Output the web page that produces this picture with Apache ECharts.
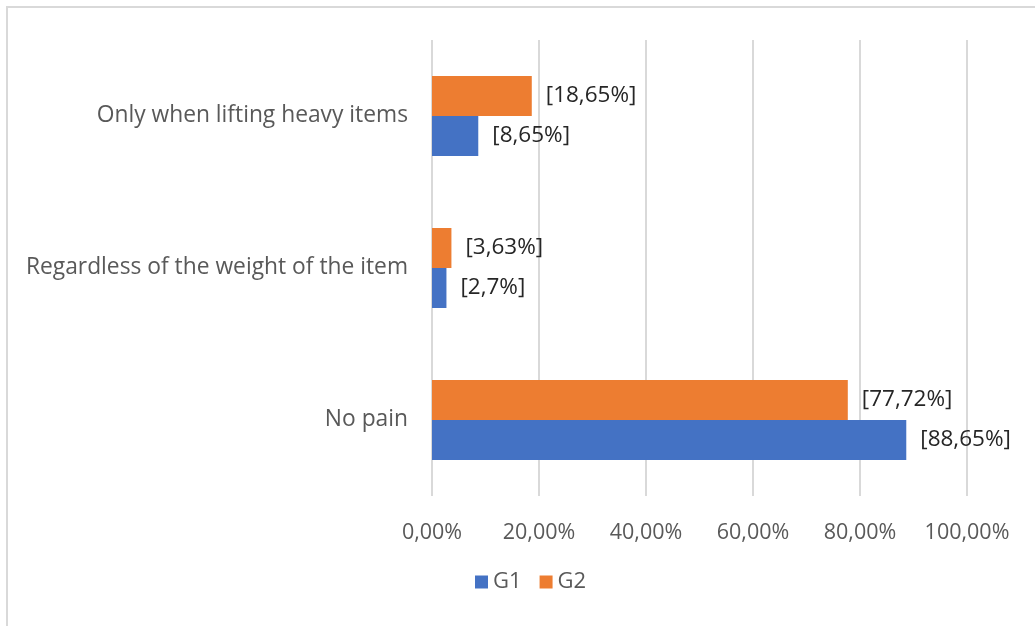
<!DOCTYPE html>
<html>
<head>
<meta charset="utf-8">
<script src="https://cdn.jsdelivr.net/npm/echarts@6/dist/echarts.min.js"></script>
<style>
html,body{margin:0;padding:0;background:#fff;}
#c{width:1035px;height:626px;}
</style>
</head>
<body>
<div id="c"></div>
<script>
const categories = ['No pain', 'Regardless of the weight of the item', 'Only when lifting heavy items'];
const g1Values = [88.65, 2.7, 8.65];
const g2Values = [77.72, 3.63, 18.65];
const g1Labels = ['[88,65%]', '[2,7%]', '[8,65%]'];
const g2Labels = ['[77,72%]', '[3,63%]', '[18,65%]'];
const seriesNames = ['G1', 'G2'];

const FONT = '"Open Sans", sans-serif';
const chart = echarts.init(document.getElementById('c'));
const labelStyle = (labels) => ({
  show: true,
  position: 'right',
  distance: 14,
  fontFamily: FONT,
  fontSize: 22.5,
  color: '#262626',
  formatter: (p) => labels[p.dataIndex]
});
chart.setOption({
  animation: false,
  graphic: [{
    type: 'rect',
    shape: {x: 7, y: 7, width: 1100, height: 700},
    style: {fill: 'none', stroke: '#d9d9d9', lineWidth: 2},
    silent: true
  }],
  grid: {left: 432, right: 68, top: 40, bottom: 130, containLabel: false},
  legend: {
    left: 470, top: 566,
    itemWidth: 13, itemHeight: 13, icon: 'rect', itemGap: 18,
    textStyle: {fontFamily: FONT, fontSize: 22, color: '#595959'},
    data: seriesNames
  },
  xAxis: {
    type: 'value', min: 0, max: 100, interval: 20,
    axisLine: {show: false}, axisTick: {show: false},
    splitLine: {lineStyle: {color: '#d9d9d9', width: 2}},
    axisLabel: {
      margin: 26,
      fontFamily: FONT, fontSize: 21.5, color: '#595959',
      formatter: (v) => v.toFixed(2).replace('.', ',') + '%'
    }
  },
  yAxis: {
    type: 'category', data: categories,
    axisLine: {show: false}, axisTick: {show: false},
    axisLabel: {margin: 24, fontFamily: FONT, fontSize: 22.8, color: '#595959'}
  },
  series: [
    {name: seriesNames[1], type: 'bar', data: g2Values, barWidth: 40, barGap: '0%',
     itemStyle: {color: '#ED7D31'}, label: labelStyle(g2Labels)},
    {name: seriesNames[0], type: 'bar', data: g1Values, barWidth: 40, barGap: '0%',
     itemStyle: {color: '#4472C4'}, label: labelStyle(g1Labels)}
  ]
});
</script>
</body>
</html>
